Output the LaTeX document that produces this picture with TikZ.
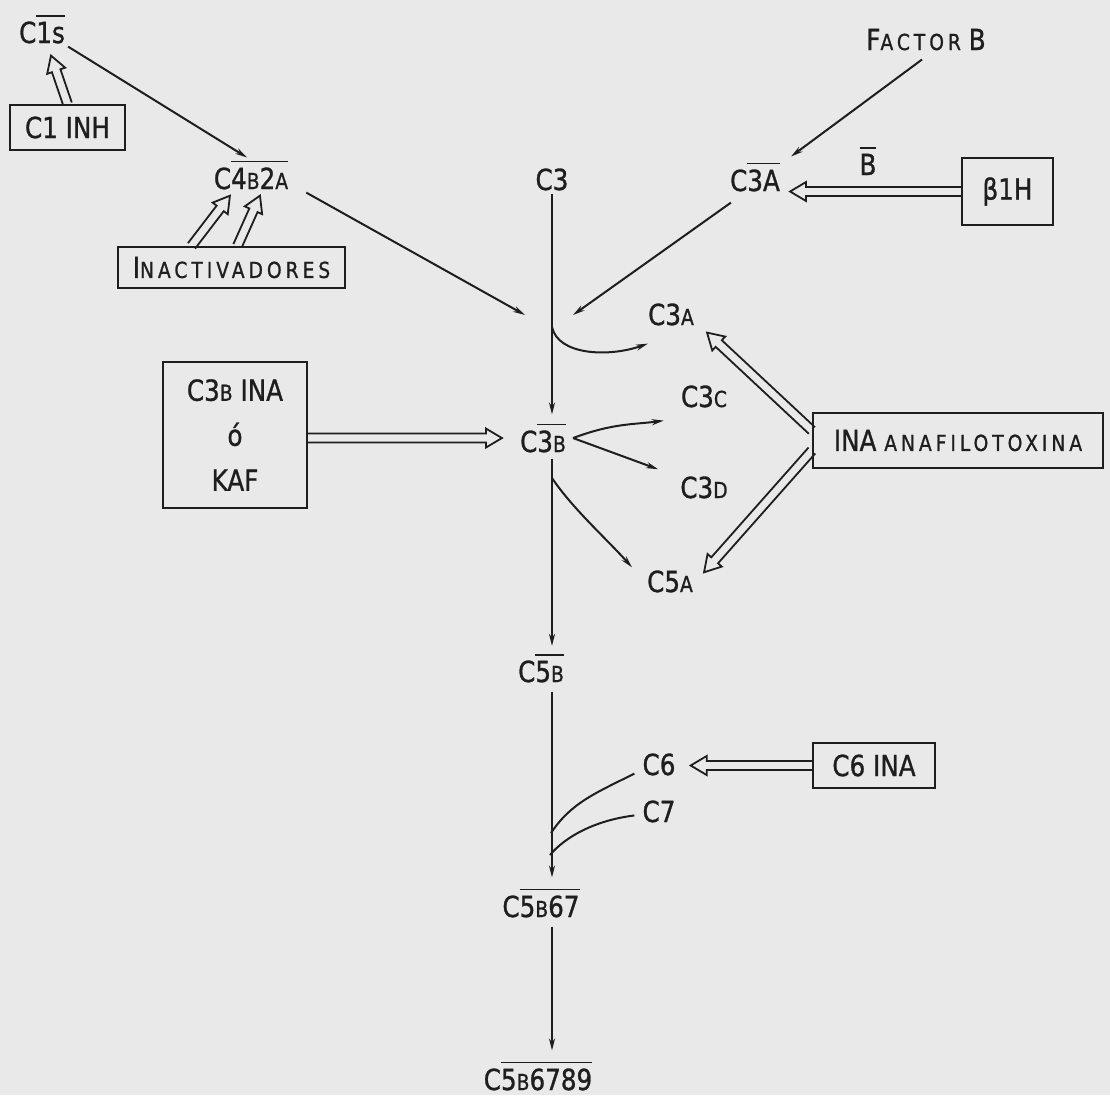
\documentclass[tikz,border=0pt]{standalone}
\usepackage{fontspec}
\setmainfont{DejaVu Sans}[FakeStretch=0.85, FakeBold=1]
\newfontfamily\widefont{DejaVu Sans}[FakeStretch=0.85, FakeBold=1, LetterSpace=18]
\usetikzlibrary{arrows.meta, calc}
\definecolor{paper}{RGB}{233,233,233}
\definecolor{ink}{RGB}{30,30,30}
\newcommand\lab{\fontsize{29}{45}\selectfont}
\newcommand\sm[1]{{\fontsize{22}{24}\selectfont #1}}
\newcommand\smw[1]{{\widefont\fontsize{22}{24}\selectfont #1}}
\newcommand\ol[1]{\leavevmode\vbox{\hrule height 1.8pt\kern5pt\hbox{#1}}}

\begin{document}
\begin{tikzpicture}[x=1pt, y=-1pt,
  lbl/.style={font=\lab, anchor=base, inner sep=3pt, text=ink},
  boxed/.style={draw=ink, line width=2.2pt, font=\lab, text=ink, inner sep=0pt, align=center},
  ln/.style={draw=ink, line width=2pt},
  arr/.style={ln, -{Stealth[length=12pt, width=6pt]}},
  hollow/.style={ln, line width=1.8pt, line join=miter, to path={
      let \p1=(\tikztostart), \p2=(\tikztotarget),
          \n1={atan2(\y2-\y1,\x2-\x1)}, \n2={veclen(\x2-\x1,\y2-\y1)-16},
          \n3={veclen(\x2-\x1,\y2-\y1)}
      in {[shift={(\p1)}, rotate=\n1]
        (0pt,4.5pt) -- (\n2,4.5pt) -- (\n2,9.5pt) -- (\n3,0pt)
        -- (\n2,-9.5pt) -- (\n2,-4.5pt) -- (0pt,-4.5pt)}
      (\tikztotarget)}}]
  \fill[paper] (0,0) rectangle (1110,1095);
  \useasboundingbox (0,0) rectangle (1110,1095);

  % parte superior izquierda
  \node[lbl] (c1s) at (42,43) {C\ol{1s}};
  \node[boxed, minimum width=115, minimum height=45] (c1inh) at (67.5,127.5) {C1 INH};
  \node[lbl] (c4b2a) at (251,189) {C\ol{4\sm{B}2\sm{A}}};
  \node[boxed, minimum width=227, minimum height=41] (inact) at (231.5,267.5) {I\smw{NACTIVADORES}};

  % parte superior derecha
  \node[lbl] (c3) at (552,190) {C3};
  \node[lbl] (factorb) at (926,50) {F\smw{ACTOR} B};
  \node[lbl] (c3abar) at (755,191) {C\ol{3A}};
  \node[lbl] (bbar) at (868,175) {\ol{B}};
  \node[boxed, minimum width=91, minimum height=67] (b1h) at (1007.5,191.5) {β1H};

  % fragmentos de C3
  \node[lbl] (c3a) at (671,325) {C3\sm{A}};
  \node[lbl] (c3b) at (543,452) {C\ol{3\sm{B}}};
  \node[lbl] (c3c) at (704,407) {C3\sm{C}};
  \node[lbl] (c3d) at (704,498) {C3\sm{D}};
  \node[lbl] (c5a) at (670,592) {C5\sm{A}};
  \node[boxed, minimum width=144, minimum height=146] (c3bina) at (235,435) {C3\sm{B} INA\\ó\\KAF};
  \node[boxed, minimum width=290, minimum height=55] (ina) at (958,440.5) {INA \smw{ANAFILOTOXINA}};

  % via terminal
  \node[lbl] (c5b) at (541,682) {C\ol{5\sm{B}}};
  \node[lbl] (c6) at (659,775) {C6};
  \node[lbl] (c7) at (659,822) {C7};
  \node[boxed, minimum width=122, minimum height=45] (c6ina) at (874,765.5) {C6 INA};
  \node[lbl] (c5b67) at (541,917) {C\ol{5\sm{B}67}};
  \node[lbl] (c5b6789) at (538,1090) {C\ol{5\sm{B}6789}};

  \coordinate (convl) at (525,315);
  \coordinate (convr) at (573,315);
  \coordinate (s3a) at (552,327);
  \coordinate (s5a) at (552,478);
  \coordinate (j6) at (551,833);
  \coordinate (j7) at (550,855);

  % flechas
  \draw[hollow] (c1inh.north) to ([xshift=9pt,yshift=-9pt]c1s.south);
  \draw[arr] (c1s.south east) -- ([xshift=-4pt]c4b2a.north);
  \draw[hollow] ([xshift=-40pt]inact.north) to ([xshift=-21pt,yshift=-3pt]c4b2a.south);
  \draw[hollow] ([xshift=6pt]inact.north) to ([xshift=9pt,yshift=-3pt]c4b2a.south);
  \draw[arr] ([xshift=15pt]c4b2a.south east) -- (convl);
  \draw[arr] ([xshift=4pt,yshift=-8pt]c3abar.south west) -- (convr);
  \draw[arr] ([xshift=-4pt,yshift=-6pt]factorb.south) -- ([xshift=8pt,yshift=3pt]c3abar.north east);
  \draw[hollow] (b1h.west) to ($(c3abar.east |- b1h.west)+(7,0)$);

  \draw[arr, shorten >=6pt] (c3.south) -- (c3.south |- c3b.north);
  \draw[arr] (s3a) .. controls +(6,28) and +(-40,14) .. ([xshift=3pt,yshift=-15pt]c3a.south west);
  \draw[hollow] (c3b.west -| c3bina.east) to ([xshift=-15pt]c3b.west);
  \draw[arr] ([xshift=4pt]c3b.east) .. controls +(40,-15) and +(-30,4) .. ([xshift=-14pt,yshift=-10pt]c3c.south west);
  \draw[arr] ([xshift=4pt]c3b.east) -- ([xshift=-19pt,yshift=4pt]c3d.north west);
  \draw[arr] (s5a) .. controls +(20,30) and +(-25,-28) .. ([xshift=-12pt]c5a.north west);
  \draw[hollow] ([yshift=10pt]ina.west) to ([xshift=10pt,yshift=-4pt]c3a.south east);
  \draw[hollow] ([yshift=-10pt]ina.west) to ([xshift=8pt,yshift=-5pt]c5a.north east);

  \draw[arr, shorten <=3pt, shorten >=5pt] (c3.south |- c3b.south) -- (c3.south |- c5b.north);
  \draw[arr, shorten <=6pt, shorten >=8pt] (c3.south |- c5b.south) -- (c3.south |- c5b67.north);
  \draw[hollow] (c6ina.west) to ($(c6ina.west -| c6.east)+(12,0)$);
  \draw[ln] ([xshift=-5pt,yshift=5pt]c6.south west) .. controls +(-40,20) and +(20,-30) .. (j6);
  \draw[ln] ([xshift=-5pt,yshift=-4pt]c7.west) .. controls +(-40,5) and +(15,-18) .. (j7);
  \draw[arr, shorten <=6pt, shorten >=8pt] (c5b67.south -| c3.south) -- (c5b6789.north -| c3.south);
\end{tikzpicture}
\end{document}
